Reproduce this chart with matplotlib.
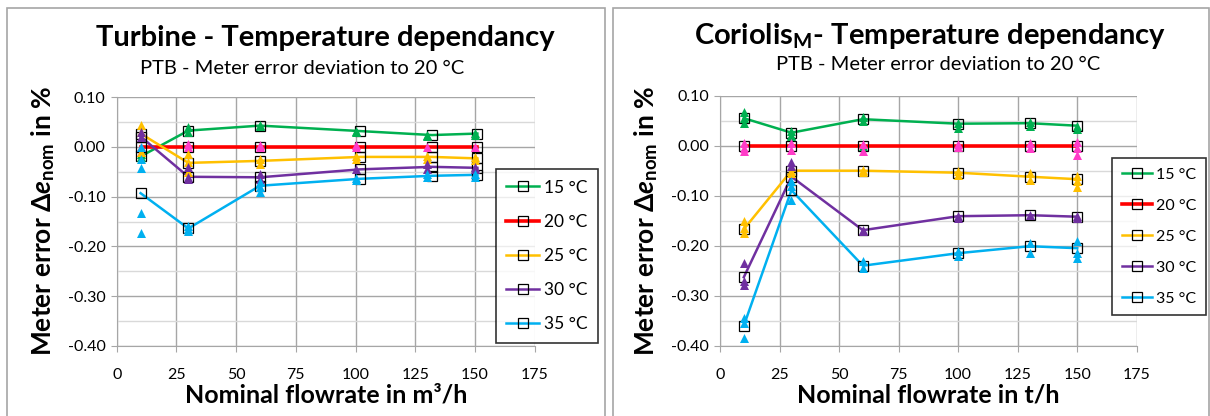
import numpy as np
import matplotlib
matplotlib.use("Agg")
import matplotlib.pyplot as plt
from matplotlib.patches import Rectangle
from matplotlib.ticker import MultipleLocator, FormatStrFormatter

plt.rcParams['font.family'] = ['Lato', 'DejaVu Sans']
plt.rcParams['mathtext.fontset'] = 'custom'
plt.rcParams['mathtext.rm'] = 'Lato'
plt.rcParams['mathtext.bf'] = 'Lato:bold'
plt.rcParams['mathtext.it'] = 'Lato:italic'
plt.rcParams['mathtext.bfit'] = 'Lato:italic:bold'

temps = ["15 °C", "20 °C", "25 °C", "30 °C", "35 °C"]
line_cols = ["#00B050", "#FF0000", "#FFC000", "#7030A0", "#00B0F0"]
tri_cols = ["#00B050", "#FF3CC8", "#FFC000", "#7030A0", "#00B0F0"]

# nominal flowrates
flow = [10, 30, 60, 100, 130, 150]
flow_sq_turb = [10, 30, 60, 102, 132, 151]

# Turbine - mean deviation (lines)
turb_mean = [
    [-0.019, 0.033, 0.043, 0.032, 0.024, 0.027],
    [0.0, 0.0, 0.0, 0.0, 0.0, 0.0],
    [0.027, -0.032, -0.028, -0.020, -0.020, -0.023],
    [0.021, -0.060, -0.061, -0.045, -0.040, -0.042],
    [-0.093, -0.164, -0.078, -0.064, -0.058, -0.056],
]
# Turbine - single measurements (triangles), per temperature: (x, y)
turb_pts = [
    ([10, 10, 30, 30, 60, 60, 100, 100, 130, 130, 150, 150],
     [-0.020, -0.015, 0.040, 0.030, 0.045, 0.042, 0.033, 0.030, 0.025, 0.022, 0.028, 0.025]),
    ([10, 10, 30, 30, 60, 60, 100, 100, 130, 150],
     [0.000, -0.010, 0.005, 0.000, 0.003, 0.000, 0.003, 0.000, 0.000, 0.000]),
    ([10, 10, 10, 30, 30, 30, 60, 60, 100, 100, 130, 130, 150, 150],
     [0.045, 0.030, -0.010, -0.015, -0.030, -0.050, -0.025, -0.035, -0.018, -0.025, -0.018, -0.025, -0.020, -0.027]),
    ([10, 10, 30, 30, 30, 60, 60, 100, 130, 130, 150, 150],
     [0.030, 0.020, -0.040, -0.060, -0.065, -0.055, -0.065, -0.045, -0.035, -0.045, -0.040, -0.045]),
    ([10, 10, 10, 10, 10, 30, 30, 30, 60, 60, 60, 100, 100, 130, 130, 150, 150],
     [0.000, -0.024, -0.043, -0.133, -0.174, -0.160, -0.165, -0.170, -0.070, -0.080, -0.090, -0.063, -0.066, -0.055, -0.060, -0.055, -0.060]),
]

# Coriolis - mean deviation (lines)
cor_mean = [
    [0.055, 0.026, 0.053, 0.044, 0.045, 0.040],
    [0.0, 0.0, 0.0, 0.0, 0.0, 0.0],
    [-0.167, -0.050, -0.050, -0.054, -0.062, -0.067],
    [-0.263, -0.062, -0.169, -0.141, -0.139, -0.142],
    [-0.360, -0.089, -0.240, -0.215, -0.201, -0.205],
]
cor_pts = [
    ([10, 10, 10, 30, 30, 30, 60, 60, 60, 100, 100, 130, 130, 150, 150],
     [0.068, 0.055, 0.045, 0.030, 0.022, 0.020, 0.057, 0.050, 0.000, 0.045, 0.035, 0.048, 0.040, 0.040, 0.033]),
    ([10, 10, 10, 30, 30, 60, 60, 100, 100, 130, 130, 150, 150, 150],
     [0.005, -0.005, -0.010, 0.005, -0.008, 0.003, -0.010, 0.003, -0.003, 0.005, -0.005, 0.008, -0.005, -0.018]),
    ([10, 10, 10, 30, 30, 60, 60, 100, 100, 130, 130, 150, 150, 150],
     [-0.150, -0.165, -0.175, -0.050, -0.055, -0.048, -0.053, -0.050, -0.058, -0.055, -0.068, -0.060, -0.070, -0.083]),
    ([10, 10, 10, 30, 30, 60, 60, 100, 100, 130, 150, 150],
     [-0.235, -0.270, -0.278, -0.033, -0.040, -0.168, -0.170, -0.140, -0.145, -0.138, -0.140, -0.145]),
    ([10, 10, 10, 30, 30, 30, 60, 60, 100, 100, 130, 130, 150, 150, 150],
     [-0.345, -0.355, -0.385, -0.070, -0.080, -0.108, -0.230, -0.245, -0.210, -0.220, -0.195, -0.215, -0.190, -0.215, -0.225]),
]

fig = plt.figure(figsize=(12.1, 4.16), dpi=100)

# chart area frames
fig.patches.append(Rectangle((7/1210, -0.05), 598/1210, 1.04 - 4/416, transform=fig.transFigure,
                             fill=False, edgecolor="#A6A6A6", lw=1.2))
fig.patches.append(Rectangle((613/1210, -0.05), 596/1210, 1.04 - 4/416, transform=fig.transFigure,
                             fill=False, edgecolor="#A6A6A6", lw=1.2))


def draw(ax, xs_line, means, pts, legend_box, fs_leg):
    for i in range(5):
        ax.scatter(pts[i][0], pts[i][1], marker="^", s=42, color=tri_cols[i], zorder=4, linewidths=0)
    for i in range(5):
        lw = 2.6 if i == 1 else 1.8
        ax.plot(xs_line, means[i], color=line_cols[i], lw=lw, marker="s", ms=7,
                mfc="none", mec="black", mew=0.9, label=temps[i], zorder=3)
    ax.set_xlim(0, 175)
    ax.set_ylim(-0.40, 0.10)
    ax.xaxis.set_major_locator(MultipleLocator(25))
    ax.yaxis.set_major_locator(MultipleLocator(0.10))
    ax.yaxis.set_minor_locator(MultipleLocator(0.05))
    ax.yaxis.set_major_formatter(FormatStrFormatter("%.2f"))
    ax.grid(True, which="major", color="#A6A6A6", lw=1.0)
    ax.grid(True, which="minor", axis="y", color="#D9D9D9", lw=1.0)
    ax.set_axisbelow(True)
    for s in ["top", "right"]:
        ax.spines[s].set_visible(False)
    for s in ["left", "bottom"]:
        ax.spines[s].set_color("#A6A6A6")
    ax.tick_params(axis="both", which="major", direction="out", length=4, color="#A6A6A6",
                   labelsize=11.5, pad=4)
    ax.tick_params(axis="y", which="minor", length=0)
    ax.tick_params(axis="x", pad=12)
    leg = ax.legend(loc="upper left", bbox_to_anchor=legend_box, fontsize=fs_leg, frameon=True,
                    fancybox=False, edgecolor="black", labelspacing=1.05, handlelength=1.9,
                    borderpad=0.6, handletextpad=0.25, borderaxespad=0)
    leg.get_frame().set_linewidth(1.2)
    ax.set_ylabel(r"Meter error $\mathbf{\Delta}\mathbfit{e}_{\mathbf{nom}}$ in %", fontsize=19,
                  fontweight="bold", labelpad=8)


ax1 = fig.add_axes([116.7/1210, 70.3/416, 418/1210, 248.4/416])
draw(ax1, flow_sq_turb, turb_mean, turb_pts, (0.907, 0.711), 12.5)
ax1.set_xlabel("Nominal flowrate in m³/h", fontsize=18, fontweight="bold", labelpad=1)

ax2 = fig.add_axes([720/1210, 70.3/416, 416.7/1210, 250/416])
draw(ax2, flow, cor_mean, cor_pts, (0.941, 0.75), 11.5)
ax2.set_xlabel("Nominal flowrate in t/h", fontsize=18, fontweight="bold", labelpad=1)

fig.text(325/1210, 1 - 38/416, "Turbine - Temperature dependancy", ha="center", va="center",
         fontsize=21, fontweight="bold")
fig.text(302/1210, 1 - 68/416, "PTB - Meter error deviation to 20 °C", ha="center", va="center",
         fontsize=14.5)
fig.text(930/1210, 1 - 36/416, r"Coriolis$_{\mathbf{M}}$- Temperature dependancy", ha="center",
         va="center", fontsize=21, fontweight="bold")
fig.text(938/1210, 1 - 65/416, "PTB - Meter error deviation to 20 °C", ha="center", va="center",
         fontsize=14.5)

fig.savefig("out.png", dpi=100)
